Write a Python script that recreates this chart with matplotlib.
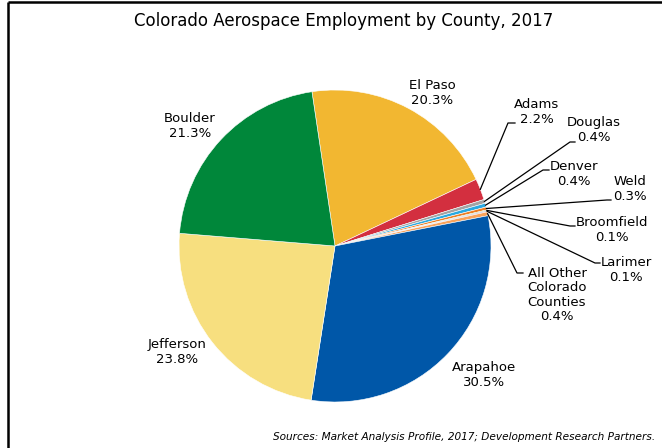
# pie chart of colorado aerospace employment by county
import matplotlib
matplotlib.use("Agg")
import matplotlib.pyplot as plt
import numpy as np

# data (percent of employment)
counties = ["El Paso", "Adams", "Douglas", "Denver", "Weld", "Broomfield",
            "Larimer", "All Other\nColorado\nCounties", "Arapahoe",
            "Jefferson", "Boulder"]
shares = [20.3, 2.2, 0.4, 0.4, 0.3, 0.1, 0.1, 0.4, 30.5, 23.8, 21.3]
colors = ["#f2b731", "#d32f3f", "#a3a3a3", "#29a9e1", "#ef7d22", "#9bbb59",
          "#8a6cae", "#f9a25a", "#0057a8", "#f7df7f", "#00873a"]

title = "Colorado Aerospace Employment by County, 2017"
source = "Sources: Market Analysis Profile, 2017; Development Research Partners."

W, H = 662, 448


def py(y):
    # pixel row (from top) -> axis y
    return H - y


def main():
    fig = plt.figure(figsize=(W / 100, H / 100), dpi=100)
    ax = fig.add_axes([0, 0, 1, 1])

    cx, cy, r = 335, py(246), 156
    wedges, _ = ax.pie(shares, colors=colors, startangle=98.5,
                       counterclock=False, center=(cx, cy), radius=r,
                       wedgeprops=dict(edgecolor="white", linewidth=0.4))
    ax.set_xlim(0, W)
    ax.set_ylim(0, H)
    ax.set_aspect("equal")
    ax.axis("off")

    labels = ["%s\n%.1f%%" % (c, s) for c, s in zip(counties, shares)]

    # big slices: label only, no leader
    big = {"El Paso": (432, 93), "Arapahoe": (484, 375),
           "Jefferson": (177, 352), "Boulder": (190, 126)}
    # small slices: label centre, elbow of leader, end of leader
    small = {"Adams": ((537, 112), (508, 123), (515, 123)),
             "Douglas": ((594, 130), (570, 142), (575, 142)),
             "Denver": ((574, 174), (543, 170), (549, 170)),
             "Weld": ((630, 189), (607, 200), (611, 200)),
             "Broomfield": ((612, 230), (570, 226), (575, 226)),
             "Larimer": ((626, 270), (595, 263), (600, 263)),
             "All Other\nColorado\nCounties": ((557, 295), (517, 273), (523, 273))}

    for w, name, lab in zip(wedges, counties, labels):
        if name in big:
            x, y = big[name]
            ax.text(x, py(y), lab, ha="center", va="center", fontsize=9.5,
                    linespacing=1.15)
        else:
            (x, y), (ex, ey), (tx, ty) = small[name]
            mid = np.deg2rad((w.theta1 + w.theta2) / 2)
            sx, sy = cx + r * np.cos(mid), cy + r * np.sin(mid)
            ax.plot([sx, ex, tx], [sy, py(ey), py(ty)], color="black", lw=0.9)
            ax.text(x, py(y), lab, ha="center", va="center", fontsize=9.5,
                    linespacing=1.15)

    ax.text(344, py(21), title, ha="center", va="center", fontsize=12)
    ax.text(655, py(437), source, ha="right", va="center", fontsize=7.6,
            style="italic")

    # frame lines on top and left only
    ax.plot([7.5, W], [py(1.5), py(1.5)], color="black", lw=1.8,
            solid_capstyle="butt")
    ax.plot([7.5, 7.5], [py(1.5), 0], color="black", lw=1.8,
            solid_capstyle="butt")

    fig.savefig("out.png", dpi=100)


if __name__ == "__main__":
    main()
